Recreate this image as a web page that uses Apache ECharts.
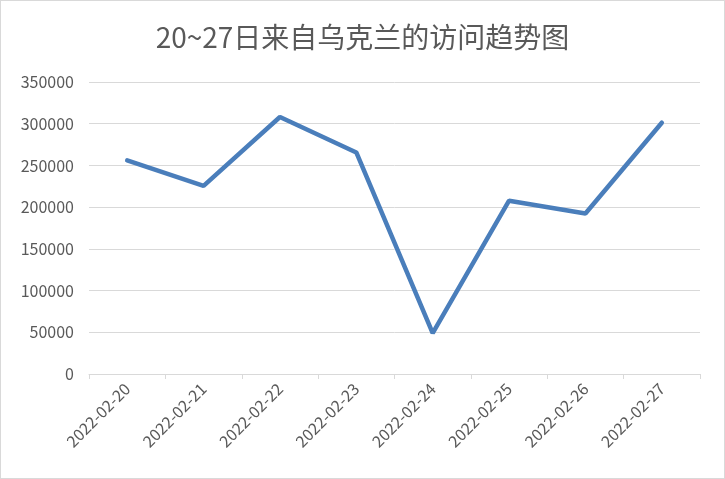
<!DOCTYPE html>
<html>
<head>
<meta charset="utf-8">
<script src="https://cdn.jsdelivr.net/npm/echarts@6/dist/echarts.min.js"></script>
<style>
  html, body { margin: 0; padding: 0; background: #fff; }
  #main { width: 725px; height: 479px; box-sizing: border-box; border: 1px solid #d9d9d9; }
</style>
</head>
<body>
<div id="main"></div>
<script>
const titleText = '20~27日来自乌克兰的访问趋势图'
const dates = ['2022-02-20', '2022-02-21', '2022-02-22', '2022-02-23', '2022-02-24', '2022-02-25', '2022-02-26', '2022-02-27']
const visits = [256000, 225500, 308000, 265500, 49000, 207700, 192400, 301200]
const yMax = 350000
const yStep = 50000

let myChart = echarts.init(document.getElementById('main'))
let option = {
  animation: false,
  title: {
    text: titleText,
    left: 'center',
    top: 17,
    textStyle: {
      color: '#595959',
      fontSize: 28,
      fontWeight: 'normal',
      fontFamily: 'Noto Sans CJK SC'
    }
  },
  grid: {
    left: 88,
    right: 24,
    top: 81,
    bottom: 104
  },
  xAxis: {
    type: 'category',
    data: dates,
    boundaryGap: true,
    axisLine: {
      lineStyle: { color: '#d9d9d9', width: 1 }
    },
    axisTick: {
      show: true,
      length: 5,
      lineStyle: { color: '#d9d9d9' }
    },
    axisLabel: {
      rotate: 45,
      margin: 12,
      color: '#595959',
      fontSize: 16,
      fontFamily: 'Noto Sans CJK SC'
    }
  },
  yAxis: {
    type: 'value',
    min: 0,
    max: yMax,
    interval: yStep,
    axisLine: { show: false },
    axisTick: { show: false },
    splitLine: {
      lineStyle: { color: '#d9d9d9', width: 1 }
    },
    axisLabel: {
      margin: 15,
      color: '#595959',
      fontSize: 16,
      fontFamily: 'Noto Sans CJK SC',
      formatter: function (v) { return String(v) }
    }
  },
  series: [{
    type: 'line',
    data: visits,
    symbol: 'none',
    lineStyle: {
      color: '#4a7ebb',
      width: 4.5,
      cap: 'round'
    }
  }]
}
myChart.setOption(option)
</script>
</body>
</html>
